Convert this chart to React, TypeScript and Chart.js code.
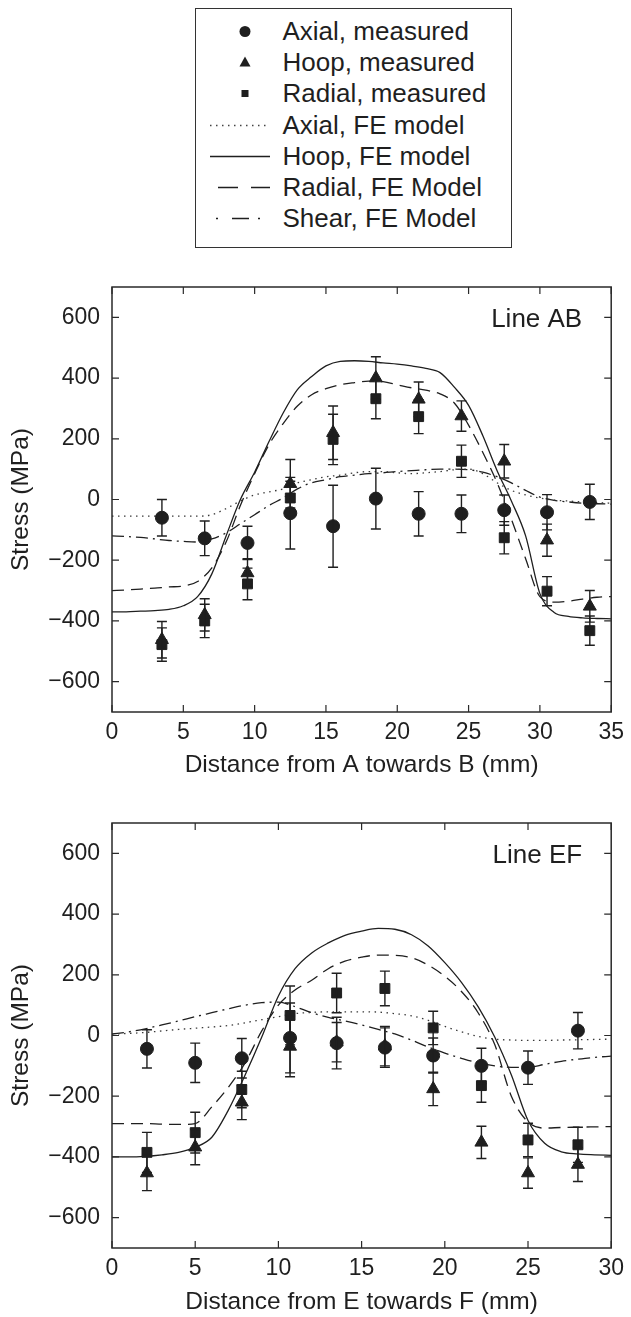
import React, { useEffect, useRef } from "react";
import { Chart, registerables } from "chart.js";

Chart.register(...registerables);

const FONT = "'Liberation Sans', Arial, Helvetica, sans-serif";
const INK = "#1f1f1f";

// ---------------- shared tick labels / titles ----------------
const stressTicks = [-600, -400, -200, 0, 200, 400, 600];
const abDistanceTicks = [0, 5, 10, 15, 20, 25, 30, 35];
const efDistanceTicks = [0, 5, 10, 15, 20, 25, 30];
const stressTitle = "Stress (MPa)";
const abXTitle = "Distance from A towards B (mm)";
const efXTitle = "Distance from E towards F (mm)";
const abPanelLabel = "Line AB";
const efPanelLabel = "Line EF";

// ---------------- legend ----------------
const legendLabels = [
  "Axial, measured",
  "Hoop, measured",
  "Radial, measured",
  "Axial, FE model",
  "Hoop, FE model",
  "Radial, FE Model",
  "Shear, FE Model",
];

// ---------------- Line AB : measured ----------------
const abMeasX = [3.5, 6.5, 9.5, 12.5, 15.5, 18.5, 21.5, 24.5, 27.5, 30.5, 33.5];
const abAxialMeas = [-60, -128, -143, -45, -88, 3, -47, -47, -35, -42, -8];
const abAxialErr = [60, 57, 55, 118, 135, 100, 73, 62, 50, 58, 58];
const abHoopMeas = [-462, -380, -242, 52, 220, 400, 330, 275, 126, -134, -352];
const abHoopErr = [60, 53, 47, 80, 88, 70, 57, 50, 55, 53, 52];
const abRadialMeas = [-478, -400, -278, 5, 198, 332, 273, 126, -126, -302, -432];
const abRadialErr = [55, 55, 52, 55, 83, 66, 56, 53, 53, 48, 48];

// ---------------- Line AB : FE model ----------------
const abModelX = [0, 1, 2, 3, 4, 5, 6, 7, 8, 9, 10, 11, 12, 13, 14, 15, 16, 17, 18, 19, 20, 21, 22, 23, 24, 25, 26, 27, 28, 29, 30, 31, 32, 33, 34, 35];
const abAxialFE = [-55, -55, -55, -55, -55, -55, -55, -50, -30, -5, 15, 25, 35, 55, 65, 75, 80, 88, 92, 92, 88, 85, 88, 92, 98, 100, 85, 55, 30, 15, 5, -2, -5, -8, -10, -12];
const abHoopFE = [-370, -370, -368, -366, -362, -350, -320, -245, -120, 0, 90, 190, 285, 362, 405, 440, 455, 457, 455, 450, 446, 440, 432, 418, 370, 310, 210, 95, -5, -120, -310, -372, -385, -390, -392, -393];
const abRadialFE = [-300, -298, -295, -292, -288, -285, -270, -225, -140, -20, 85, 180, 250, 308, 345, 365, 378, 385, 390, 388, 378, 368, 360, 348, 318, 245, 155, 55, -65, -195, -320, -338, -335, -328, -322, -320];
const abShearFE = [-120, -122, -125, -130, -135, -138, -140, -130, -110, -80, -50, -20, 5, 35, 55, 65, 75, 80, 85, 88, 92, 95, 98, 100, 100, 98, 90, 75, 55, 30, 8, -3, -8, -12, -14, -15];

// ---------------- Line EF : measured ----------------
const efMeasX = [2.1, 5.0, 7.8, 10.7, 13.5, 16.4, 19.3, 22.2, 25.0, 28.0];
const efAxialMeas = [-44, -90, -75, -8, -25, -40, -66, -100, -106, 16];
const efAxialErr = [63, 65, 65, 115, 85, 65, 58, 58, 55, 60];
const efHoopMeas = [-453, -368, -220, -36, -22, -35, -176, -352, -453, -425];
const efHoopErr = [58, 58, 57, 100, 65, 65, 55, 53, 50, 56];
const efRadialMeas = [-385, -320, -178, 66, 140, 155, 25, -165, -344, -360];
const efRadialErr = [66, 67, 60, 97, 65, 57, 55, 55, 55, 58];

// ---------------- Line EF : FE model ----------------
const efModelX = [0, 1, 2, 3, 4, 5, 6, 7, 8, 9, 10, 11, 12, 13, 14, 15, 16, 17, 18, 19, 20, 21, 22, 23, 24, 25, 26, 27, 28, 29, 30];
const efAxialFE = [5, 7, 10, 15, 20, 24, 28, 33, 42, 52, 62, 72, 76, 78, 78, 78, 77, 72, 65, 50, 30, 12, -3, -12, -15, -16, -16, -15, -14, -13, -12];
const efHoopFE = [-400, -400, -398, -393, -385, -368, -335, -245, -130, -5, 130, 220, 272, 305, 330, 344, 353, 350, 332, 295, 240, 175, 95, -5, -130, -280, -355, -383, -390, -393, -395];
const efRadialFE = [-290, -290, -290, -292, -293, -290, -235, -170, -90, 15, 100, 150, 182, 220, 245, 258, 265, 264, 256, 232, 195, 145, 75, -30, -200, -285, -305, -303, -302, -301, -300];
const efShearFE = [5, 12, 22, 35, 48, 62, 75, 88, 100, 108, 110, 95, 75, 60, 48, 35, 20, 5, -15, -38, -58, -75, -90, -100, -105, -105, -95, -85, -78, -72, -68];

// ---------------- helpers ----------------
const pts = (xs: number[], ys: number[]) => xs.map((x, i) => ({ x, y: ys[i] }));
const fmtTick = (v: any) => (Number(v) < 0 ? "\u2212" + Math.abs(Number(v)) : String(v));

const errorBarPlugin = {
  id: "errorBars",
  afterDatasetsDraw(chart: any) {
    const { ctx } = chart;
    const yScale = chart.scales.y;
    ctx.save();
    ctx.strokeStyle = INK;
    ctx.lineWidth = 1.4;
    chart.data.datasets.forEach((ds: any, i: number) => {
      const errs: number[] | undefined = ds.errors;
      if (!errs) return;
      const meta = chart.getDatasetMeta(i);
      meta.data.forEach((el: any, j: number) => {
        const v = ds.data[j].y;
        const e = errs[j];
        const x = el.x;
        const y1 = yScale.getPixelForValue(v + e);
        const y2 = yScale.getPixelForValue(v - e);
        ctx.beginPath();
        ctx.moveTo(x, y1);
        ctx.lineTo(x, y2);
        ctx.moveTo(x - 5, y1);
        ctx.lineTo(x + 5, y1);
        ctx.moveTo(x - 5, y2);
        ctx.lineTo(x + 5, y2);
        ctx.stroke();
      });
    });
    ctx.restore();
  },
};

const frameTicksPlugin = {
  id: "frameTicks",
  afterDraw(chart: any) {
    const { ctx, chartArea } = chart;
    const { left, right, top, bottom } = chartArea;
    const xs = chart.scales.x;
    const ys = chart.scales.y;
    const L = 7;
    ctx.save();
    ctx.strokeStyle = "#2a2a2a";
    ctx.lineWidth = 1.5;
    ctx.strokeRect(left, top, right - left, bottom - top);
    ctx.lineWidth = 1.2;
    ctx.beginPath();
    xs.ticks.forEach((t: any) => {
      const px = xs.getPixelForValue(t.value);
      ctx.moveTo(px, bottom);
      ctx.lineTo(px, bottom - L);
      ctx.moveTo(px, top);
      ctx.lineTo(px, top + L);
    });
    ys.ticks.forEach((t: any) => {
      const py = ys.getPixelForValue(t.value);
      ctx.moveTo(left, py);
      ctx.lineTo(left + L, py);
      ctx.moveTo(right, py);
      ctx.lineTo(right - L, py);
    });
    ctx.stroke();
    ctx.restore();
  },
};

const cornerLabelPlugin = {
  id: "cornerLabel",
  afterDraw(chart: any, _args: any, opts: any) {
    const { ctx, chartArea } = chart;
    ctx.save();
    ctx.font = `26px ${FONT}`;
    ctx.fillStyle = INK;
    ctx.textAlign = "right";
    ctx.textBaseline = "middle";
    ctx.fillText(opts.text, chartArea.right - 29, chartArea.top + 33);
    ctx.restore();
  },
};

type Spec = {
  measX: number[];
  axial: number[];
  axialErr: number[];
  hoop: number[];
  hoopErr: number[];
  radial: number[];
  radialErr: number[];
  modelX: number[];
  axialFE: number[];
  hoopFE: number[];
  radialFE: number[];
  shearFE: number[];
  xMax: number;
  xTicks: number[];
  xTitle: string;
  label: string;
  padTop: number;
  xAxisHeight: number;
  titlePadBottom: number;
};

function buildConfig(s: Spec): any {
  const marker = (label: string, data: any, errors: number[], style: string, r: number) => ({
    label,
    data,
    errors,
    showLine: false,
    pointStyle: style,
    pointRadius: r,
    pointBackgroundColor: INK,
    pointBorderColor: INK,
    pointBorderWidth: 1,
    backgroundColor: INK,
    borderColor: INK,
  });
  const curve = (label: string, data: any, dash: number[], color: string) => ({
    label,
    data,
    showLine: true,
    fill: false,
    pointRadius: 0,
    borderColor: color,
    backgroundColor: "transparent",
    borderWidth: 1.3,
    borderDash: dash,
    cubicInterpolationMode: "monotone",
  });
  return {
    type: "scatter",
    data: {
      datasets: [
        marker(legendLabels[0], pts(s.measX, s.axial), s.axialErr, "circle", 6.5),
        marker(legendLabels[1], pts(s.measX, s.hoop), s.hoopErr, "triangle", 7.5),
        marker(legendLabels[2], pts(s.measX, s.radial), s.radialErr, "rect", 7),
        curve(legendLabels[3], pts(s.modelX, s.axialFE), [1.5, 4.5], "#3a3a3a"),
        curve(legendLabels[4], pts(s.modelX, s.hoopFE), [], INK),
        curve(legendLabels[5], pts(s.modelX, s.radialFE), [12, 7], INK),
        curve(legendLabels[6], pts(s.modelX, s.shearFE), [12, 5, 2, 5], INK),
      ],
    },
    options: {
      responsive: false,
      animation: false,
      events: [],
      layout: { padding: { top: s.padTop, right: 15, bottom: 0, left: 0 } },
      plugins: {
        legend: { display: false },
        tooltip: { enabled: false },
        cornerLabel: { text: s.label },
      },
      scales: {
        x: {
          type: "linear",
          min: 0,
          max: s.xMax,
          afterBuildTicks: (sc: any) => {
            sc.ticks = s.xTicks.map((v) => ({ value: v }));
          },
          afterFit: (sc: any) => {
            sc.height = s.xAxisHeight;
          },
          grid: { display: false, drawTicks: false },
          border: { display: false },
          ticks: {
            padding: 7,
            autoSkip: false,
            maxRotation: 0,
            color: INK,
            font: { size: 23, family: FONT },
            callback: fmtTick,
          },
          title: {
            display: true,
            text: s.xTitle,
            color: INK,
            font: { size: 24.5, family: FONT },
            padding: { top: 0, bottom: s.titlePadBottom },
          },
        },
        y: {
          type: "linear",
          min: -700,
          max: 700,
          afterBuildTicks: (sc: any) => {
            sc.ticks = stressTicks.map((v) => ({ value: v }));
          },
          afterFit: (sc: any) => {
            sc.width = 112;
          },
          grid: { display: false, drawTicks: false },
          border: { display: false },
          ticks: {
            padding: 12,
            color: INK,
            font: { size: 23, family: FONT },
            callback: fmtTick,
          },
          title: {
            display: true,
            text: stressTitle,
            color: INK,
            font: { size: 24.5, family: FONT },
            padding: { top: 7, bottom: 0 },
          },
        },
      },
    },
    plugins: [errorBarPlugin, frameTicksPlugin, cornerLabelPlugin],
  };
}

function StressChart({ spec, top, height }: { spec: Spec; top: number; height: number }) {
  const ref = useRef<HTMLCanvasElement>(null);
  useEffect(() => {
    const chart = new Chart(ref.current as HTMLCanvasElement, buildConfig(spec));
    return () => chart.destroy();
  }, []);
  return (
    <canvas
      ref={ref}
      width={631}
      height={height}
      style={{ position: "absolute", left: 0, top, width: 631, height, display: "block" }}
    />
  );
}

const legendSymbols = ["circle", "triangle", "square", "dotted", "solid", "dashed", "dashdot"];

function LegendSymbol({ kind }: { kind: string }) {
  const cy = 15.5;
  let el: any = null;
  if (kind === "circle") el = <circle cx={43} cy={cy} r={5.5} fill={INK} />;
  else if (kind === "triangle") el = <polygon points={`43,${cy - 6} 48.5,${cy + 4} 37.5,${cy + 4}`} fill={INK} />;
  else if (kind === "square") el = <rect x={39.5} y={cy - 3.5} width={7} height={7} fill={INK} />;
  else {
    const dash =
      kind === "dotted" ? "1.5 4.5" : kind === "dashed" ? "20 13" : kind === "dashdot" ? "2 14 17 9 2 40" : undefined;
    const x1 = kind === "dashed" ? 16 : kind === "dashdot" ? 14 : 8;
    el = <line x1={x1} x2={68} y1={cy} y2={cy} stroke={kind === "dotted" ? "#444" : INK} strokeWidth={1.3} strokeDasharray={dash} />;
  }
  return (
    <svg width={72} height={31} style={{ position: "absolute", left: 0, top: 0 }}>
      {el}
    </svg>
  );
}

function Legend() {
  return (
    <div
      style={{
        position: "absolute",
        left: 195,
        top: 8,
        width: 317,
        height: 240,
        boxSizing: "border-box",
        border: "1.5px solid #333",
        background: "#fff",
      }}
    >
      {legendLabels.map((t, i) => (
        <div key={t} style={{ position: "absolute", left: 6, top: 7 + i * 31.2, height: 31, width: 300 }}>
          <LegendSymbol kind={legendSymbols[i]} />
          <span
            style={{
              position: "absolute",
              left: 80.5,
              top: 0,
              lineHeight: "31px",
              fontFamily: FONT,
              fontSize: 26,
              color: INK,
              whiteSpace: "nowrap",
            }}
          >
            {t}
          </span>
        </div>
      ))}
    </div>
  );
}

const abSpec: Spec = {
  measX: abMeasX,
  axial: abAxialMeas,
  axialErr: abAxialErr,
  hoop: abHoopMeas,
  hoopErr: abHoopErr,
  radial: abRadialMeas,
  radialErr: abRadialErr,
  modelX: abModelX,
  axialFE: abAxialFE,
  hoopFE: abHoopFE,
  radialFE: abRadialFE,
  shearFE: abShearFE,
  xMax: 35,
  xTicks: abDistanceTicks,
  xTitle: abXTitle,
  label: abPanelLabel,
  padTop: 32,
  xAxisHeight: 73,
  titlePadBottom: 5,
};

const efSpec: Spec = {
  measX: efMeasX,
  axial: efAxialMeas,
  axialErr: efAxialErr,
  hoop: efHoopMeas,
  hoopErr: efHoopErr,
  radial: efRadialMeas,
  radialErr: efRadialErr,
  modelX: efModelX,
  axialFE: efAxialFE,
  hoopFE: efHoopFE,
  radialFE: efRadialFE,
  shearFE: efShearFE,
  xMax: 30,
  xTicks: efDistanceTicks,
  xTitle: efXTitle,
  label: efPanelLabel,
  padTop: 38,
  xAxisHeight: 69,
  titlePadBottom: 0,
};

export default function App() {
  return (
    <div
      style={{
        position: "absolute",
        left: 0,
        top: 0,
        width: 631,
        height: 1317,
        overflow: "hidden",
        background: "#fff",
      }}
    >
      <Legend />
      <StressChart spec={abSpec} top={255} height={530} />
      <StressChart spec={efSpec} top={785} height={532} />
    </div>
  );
}
